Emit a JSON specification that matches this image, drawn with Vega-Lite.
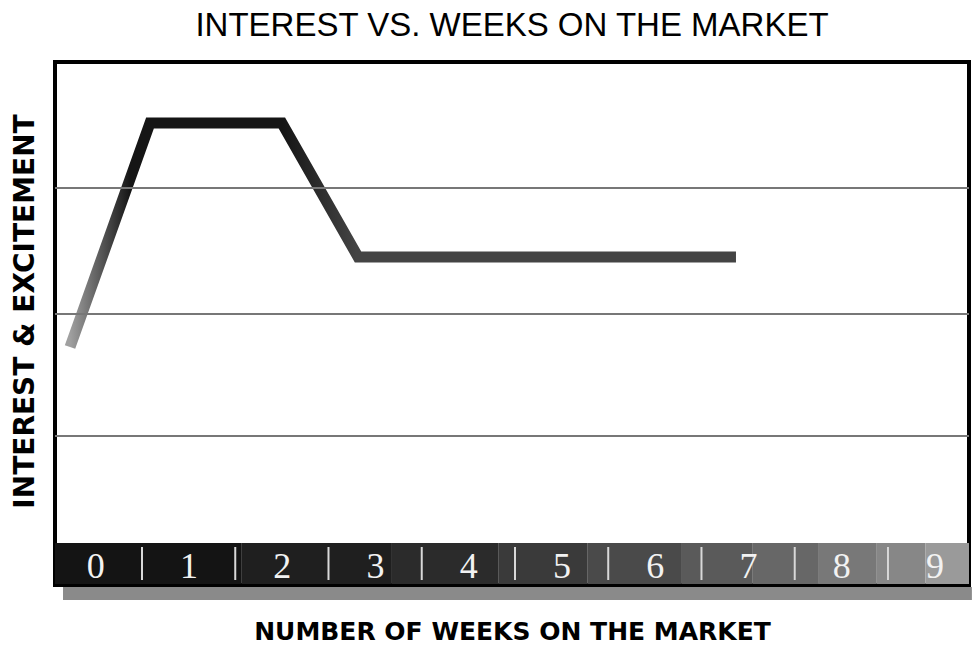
{
  "$schema": "https://vega.github.io/schema/vega-lite/v6.json",
  "width": 914,
  "height": 523,
  "padding": {"left": 55, "top": 62, "right": 3, "bottom": 61},
  "autosize": {"type": "none"},
  "background": "white",
  "config": {"view": {"stroke": "black", "strokeWidth": 4}},
  "title": {
    "text": "INTEREST VS. WEEKS ON THE  MARKET",
    "font": "Liberation Sans",
    "fontSize": 33,
    "fontWeight": "normal",
    "color": "black",
    "anchor": "middle",
    "baseline": "alphabetic",
    "offset": -7,
    "frame": "group"
  },
  "datasets": {
    "weeks": [
      {"week": 0}, {"week": 1}, {"week": 2}, {"week": 3}, {"week": 4},
      {"week": 5}, {"week": 6}, {"week": 7}, {"week": 8}, {"week": 9}
    ],
    "shades": [
      {"from": 0.067, "to": 2.07, "step": 0},
      {"from": 2.07, "to": 3.68, "step": 1},
      {"from": 3.68, "to": 4.82, "step": 2},
      {"from": 4.82, "to": 5.78, "step": 3},
      {"from": 5.78, "to": 6.79, "step": 4},
      {"from": 6.79, "to": 7.55, "step": 5},
      {"from": 7.55, "to": 8.25, "step": 6},
      {"from": 8.25, "to": 8.88, "step": 7},
      {"from": 8.88, "to": 9.40, "step": 8},
      {"from": 9.40, "to": 9.869, "step": 9}
    ],
    "grid": [{"level": 149}, {"level": 271}, {"level": 397}],
    "curve": [
      {"week": 0.228, "interest": 238},
      {"week": 1.086, "interest": 462},
      {"week": 2.5, "interest": 462},
      {"week": 3.317, "interest": 328},
      {"week": 7.37, "interest": 328}
    ],
    "shadow": [{"start": 0.153, "end": 9.9}]
  },
  "layer": [
    {
      "data": {"name": "curve"},
      "mark": {
        "type": "line",
        "strokeWidth": 11,
        "strokeJoin": "miter",
        "strokeCap": "butt",
        "zindex": 2,
        "stroke": {
          "gradient": "linear",
          "x1": 0, "y1": 0, "x2": 1, "y2": 0,
          "stops": [
            {"offset": 0, "color": "#a0a0a0"},
            {"offset": 0.09, "color": "#151515"},
            {"offset": 0.32, "color": "#151515"},
            {"offset": 0.43, "color": "#444444"},
            {"offset": 1, "color": "#444444"}
          ]
        }
      },
      "encoding": {
        "x": {
          "field": "week", "type": "quantitative",
          "scale": {"domain": [0.067, 9.869], "nice": false, "zero": false},
          "axis": {
            "title": "NUMBER OF WEEKS ON THE MARKET",
            "labels": false, "ticks": false, "domain": false, "grid": false,
            "titleFont": "DejaVu Sans", "titleFontWeight": "bold", "titleFontSize": 25,
            "titleColor": "black", "titleY": 54, "titleBaseline": "alphabetic"
          }
        },
        "y": {
          "field": "interest", "type": "quantitative",
          "scale": {"domain": [0, 523], "nice": false, "zero": false},
          "axis": {
            "title": "INTEREST & EXCITEMENT",
            "labels": false, "ticks": false, "domain": false, "grid": false,
            "titleFont": "DejaVu Sans", "titleFontWeight": "bold", "titleFontSize": 28,
            "titleColor": "black", "titleX": -30, "titleY": 249, "titleAngle": 270,
            "titleBaseline": "middle", "titleAlign": "center"
          }
        }
      }
    },
    {
      "data": {"name": "shadow"},
      "mark": {"type": "rect", "color": "#8a8a8a"},
      "encoding": {
        "x": {"field": "start", "type": "quantitative", "title": "NUMBER OF WEEKS ON THE MARKET"},
        "x2": {"field": "end"},
        "y": {"datum": -15, "type": "quantitative", "title": "INTEREST & EXCITEMENT"},
        "y2": {"datum": -2}
      }
    },
    {
      "data": {"name": "grid"},
      "mark": {"type": "rule", "color": "#777777", "strokeWidth": 2},
      "encoding": {
        "y": {"field": "level", "type": "quantitative", "title": "INTEREST & EXCITEMENT"}
      }
    },
    {
      "data": {"name": "shades"},
      "mark": {"type": "rect"},
      "encoding": {
        "x": {"field": "from", "type": "quantitative", "title": "NUMBER OF WEEKS ON THE MARKET"},
        "x2": {"field": "to"},
        "y": {"datum": 1, "type": "quantitative", "title": "INTEREST & EXCITEMENT"},
        "y2": {"datum": 42},
        "fill": {
          "field": "step",
          "type": "ordinal",
          "legend": null,
          "scale": {"range": ["#141414", "#1f1f1f", "#2b2b2b", "#3a3a3a", "#4a4a4a", "#5a5a5a", "#676767", "#787878", "#878787", "#9a9a9a"]}
        }
      }
    },
    {
      "data": {"name": "weeks"},
      "transform": [{"filter": "datum.week > 0"}],
      "mark": {"type": "rule", "color": "#d8d8d8", "strokeWidth": 2},
      "encoding": {
        "x": {"field": "week", "type": "quantitative", "title": "NUMBER OF WEEKS ON THE MARKET"},
        "y": {"datum": 5, "type": "quantitative", "title": "INTEREST & EXCITEMENT"},
        "y2": {"datum": 38}
      }
    },
    {
      "data": {"name": "weeks"},
      "mark": {"type": "text", "font": "Liberation Serif", "fontSize": 36, "color": "#f2f2f2", "baseline": "alphabetic", "align": "center", "dx": 47},
      "encoding": {
        "x": {"field": "week", "type": "quantitative", "title": "NUMBER OF WEEKS ON THE MARKET"},
        "y": {"datum": 7, "type": "quantitative", "title": "INTEREST & EXCITEMENT"},
        "text": {"field": "week", "type": "quantitative"}
      }
    }
  ]
}
